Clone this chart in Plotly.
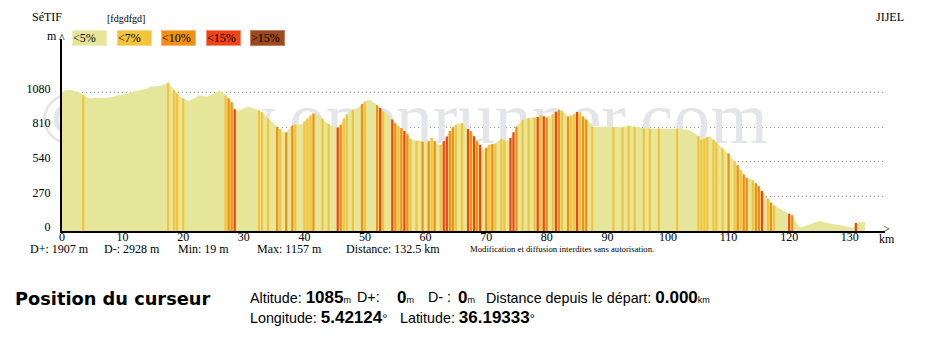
import plotly.graph_objects as go

# ---------------- data ----------------
STEP_KM = 0.5
elevation_m = [
    1087, 1095, 1102, 1100, 1096, 1088, 1076, 1060, 1045, 1034, 1036, 1041, 1040, 1037, 1038, 1041, 1042, 1050, 1057, 1060,
    1063, 1067, 1072, 1080, 1090, 1096, 1100, 1104, 1110, 1126, 1128, 1127, 1132, 1137, 1148, 1157, 1130, 1100, 1075, 1050,
    1033, 1022, 1016, 1025, 1040, 1055, 1058, 1052, 1050, 1058, 1068, 1083, 1095, 1080, 1058, 1035, 1005, 950, 938, 945,
    955, 968, 968, 960, 952, 942, 926, 900, 878, 858, 835, 812, 795, 772, 770, 800, 822, 830, 829, 832,
    855, 878, 900, 917, 915, 893, 875, 852, 835, 820, 806, 808, 828, 878, 910, 933, 945, 952, 965, 990,
    1010, 1024, 1018, 1003, 980, 960, 933, 915, 897, 870, 840, 820, 803, 780, 755, 720, 708, 704, 706, 696,
    688, 700, 725, 700, 678, 673, 700, 738, 780, 810, 828, 838, 842, 818, 795, 778, 740, 700, 673, 630,
    650, 673, 676, 683, 700, 720, 708, 698, 725, 770, 816, 845, 865, 875, 882, 886, 886, 890, 902, 895,
    886, 898, 910, 930, 946, 938, 920, 894, 900, 910, 928, 925, 894, 870, 850, 815, 810, 812, 815, 816,
    814, 812, 809, 810, 810, 809, 815, 821, 820, 812, 808, 806, 800, 798, 798, 799, 798, 800, 798, 797,
    798, 798, 798, 797, 795, 793, 790, 787, 775, 760, 740, 712, 722, 735, 735, 712, 690, 665, 645, 625,
    605, 575, 545, 512, 475, 440, 413, 405, 395, 372, 350, 312, 280, 252, 222, 198, 183, 172, 160, 150,
    135, 122, 78, 40, 29, 36, 47, 55, 62, 72, 80, 72, 66, 60, 54, 50, 49, 46, 42, 38,
    32, 19, 62, 68, 70, 70,
]
distance_km = [i * STEP_KM for i in range(len(elevation_m))]

# steep sections (km position, slope class index into slope_labels)
stripe_km = [3.5, 17.5, 18.5, 19.0, 20.0, 27.0, 27.5, 28.0, 28.5, 32.5, 33.0, 34.0, 35.5, 36.0, 37.0, 38.0, 38.5,
             40.0, 40.5, 41.0, 41.5, 43.0, 44.0, 45.5, 46.0, 46.5, 47.0, 48.0, 49.5, 50.0, 52.0, 52.5, 53.0, 54.5,
             55.0, 55.5, 56.0, 56.5, 57.0, 57.5, 58.5, 59.5, 60.5, 61.0, 61.5, 62.5, 63.0, 63.5, 64.0, 64.5, 65.0,
             66.0, 67.0, 67.5, 68.0, 68.5, 69.0, 70.0, 70.5, 71.0, 71.5, 72.5, 73.0, 74.0, 74.5, 75.0, 76.0, 77.0,
             78.0, 78.5, 79.0, 79.5, 80.0, 81.0, 81.5, 82.0, 82.5, 83.5, 84.0, 84.5, 85.0, 85.5, 86.0, 86.5, 87.5,
             91.0, 92.5, 93.5, 94.5, 96.0, 97.0, 98.5, 101.5, 105.0, 105.5, 106.0, 106.5, 107.5, 108.0, 109.0,
             110.0, 111.0, 111.5, 112.0, 112.5, 113.0, 114.0, 114.5, 115.0, 115.5, 116.5, 117.0, 117.5, 120.0,
             120.5, 131.0]
stripe_class = [1, 1, 1, 1, 1, 1, 2, 2, 3, 1, 1, 1, 2, 1, 2, 2, 1,
                1, 1, 1, 2, 1, 1, 3, 2, 1, 1, 1, 2, 1, 2, 3, 1, 3,
                2, 1, 2, 3, 2, 1, 1, 2, 2, 1, 2, 1, 3, 3, 2, 2, 1,
                1, 3, 2, 3, 2, 3, 2, 1, 2, 1, 1, 1, 3, 3, 2, 1, 1,
                1, 3, 1, 3, 2, 1, 3, 2, 1, 2, 1, 1, 3, 1, 2, 2, 1,
                1, 1, 1, 1, 1, 1, 1, 1, 1, 1, 1, 1, 1, 1, 1,
                2, 1, 2, 1, 2, 2, 1, 2, 2, 3, 1, 2, 1, 3,
                2, 3]

slope_labels = ["<5%", "<7%", "<10%", "<15%", ">15%"]
slope_colors = ["#E6E69B", "#F3C33A", "#F28E12", "#EE4416", "#9A4A1E"]
slope_borders = ["#F0F0C0", "#F8DA85", "#F8B870", "#F59078", "#C08060"]

y_ticks = [0, 270, 540, 810, 1080]
x_ticks = [0, 10, 20, 30, 40, 50, 60, 70, 80, 90, 100, 110, 120, 130]

start_name, end_name, route_tag = "SéTIF", "JIJEL", "[fdgdfgd]"
stats = [("D+: 1907 m", 28), ("D-: 2928 m", 102), ("Min: 19 m", 176), ("Max: 1157 m", 255),
         ("Distance: 132.5 km", 344)]

# ---------------- layout geometry ----------------
W, H = 928, 357
ML, MR, MT, MB = 62, 43, 39, 126
PW, PH = W - ML - MR, H - MT - MB
PX_PER_KM = 6.06
PX_PER_M = 0.1282


def px(x):
    return (x - ML) / PW


def py(y):
    return (H - MB - y) / PH


SERIF = "Liberation Serif"
SANS = "Liberation Sans"

fig = go.Figure()

# watermark (behind the profile), centred inside the axes
fig.add_trace(go.Scatter(
    x=[(404 - ML) / PX_PER_KM], y=[(H - MB - 124) / PX_PER_M], mode="text",
    text=["© www.openrunner.com"],
    textposition="middle center", cliponaxis=False, hoverinfo="skip",
    textfont=dict(family=SERIF, size=74, color="#E4E5E9")))

# base profile
fig.add_trace(go.Scatter(
    x=distance_km, y=elevation_m, mode="lines", fill="tozeroy",
    fillcolor=slope_colors[0], line=dict(width=0, color=slope_colors[0]), hoverinfo="skip"))

# steep stripes
half_w = 0.18
for c in range(1, len(slope_labels)):
    xs, ys = [], []
    for k, cl in zip(stripe_km, stripe_class):
        if cl != c:
            continue
        h = elevation_m[int(round(k / STEP_KM))]
        xs += [k - half_w, k - half_w, k + half_w, k + half_w, None]
        ys += [0, h, h, 0, None]
    if xs:
        fig.add_trace(go.Scatter(x=xs, y=ys, mode="lines", fill="toself",
                                 fillcolor=slope_colors[c], line=dict(width=0),
                                 hoverinfo="skip"))

ann = []


def text(t, x, y, size=12, family=SERIF, xanchor="left", color="black", **kw):
    ann.append(dict(text=t, x=px(x), y=py(y), xref="paper", yref="paper",
                    xanchor=xanchor, yanchor="middle", showarrow=False,
                    font=dict(family=family, size=size, color=color), **kw))


text(start_name, 47, 17, xanchor="center")
text(route_tag, 126, 18, size=10, xanchor="center")
text(end_name, 890, 17, xanchor="center")
text("m", 52, 36, xanchor="center")
text("^", 62, 38, size=12, xanchor="center")
text("&gt;", 886, 229, size=12, xanchor="center")
text("km", 887, 239, xanchor="center")

legend_left = [72, 117, 161, 206, 250]
for lab, col, bc, lx in zip(slope_labels, slope_colors, slope_borders, legend_left):
    text(lab.replace("<", "&lt;").replace(">", "&gt;"), lx, 38.5, size=12, xanchor="left",
         bgcolor=col, bordercolor=bc, borderwidth=1, borderpad=0, width=33, height=14, align="left")

for s, x in stats:
    text(s, x, 249)
text("Modification et diffusion interdites sans autorisation.", 468, 249, size=8.7)

text("<b>Position du curseur</b>", 13, 298, size=17.8, family="DejaVu Sans")


def val(v, unit, usize=9):
    return f"<b><span style='font-size:17px'>{v}</span></b><span style='font-size:{usize}px'>{unit}</span>"


LS = 14.3
text("Altitude: " + val("1085", "m"), 248, 297, size=LS, family=SANS)
text("D+:", 355, 297, size=LS, family=SANS)
text(val("0", "m"), 395, 297, size=LS, family=SANS)
text("D- :", 426, 297, size=LS, family=SANS)
text(val("0", "m"), 456, 297, size=LS, family=SANS)
text("Distance depuis le départ: " + val("0.000", "km"), 484, 297, size=LS, family=SANS)
text("Longitude: " + val("5.42124", "°", 13), 248, 317, size=LS, family=SANS)
text("Latitude: " + val("36.19333", "°", 13), 398, 317, size=LS, family=SANS)

fig.update_layout(
    width=W, height=H, autosize=False,
    margin=dict(l=ML, r=MR, t=MT, b=MB, pad=0, autoexpand=False),
    paper_bgcolor="white", plot_bgcolor="white",
    showlegend=False, hovermode=False,
    annotations=ann,
    xaxis=dict(range=[0, PW / PX_PER_KM], tickvals=x_ticks, ticktext=[str(v) for v in x_ticks],
               showgrid=False, zeroline=False, showline=True, linecolor="black", linewidth=2,
               automargin=False, ticklabelstandoff=-6,
               ticks="", tickfont=dict(family=SERIF, size=12, color="black"), fixedrange=True),
    yaxis=dict(range=[0, PH / PX_PER_M], tickvals=y_ticks, ticktext=[str(v) for v in y_ticks],
               showgrid=True, gridcolor="#9a9a9a", griddash="1px,3px", gridwidth=1,
               zeroline=False, showline=True, linecolor="black", linewidth=2, automargin=False,
               ticks="", ticklabelstandoff=7, ticklabelshift=-4,
               tickfont=dict(family=SERIF, size=12, color="black"), fixedrange=True),
)

fig.write_html("out.html", config={"displayModeBar": False},
               post_script="document.body.style.margin='0px';document.body.style.padding='0px';")
